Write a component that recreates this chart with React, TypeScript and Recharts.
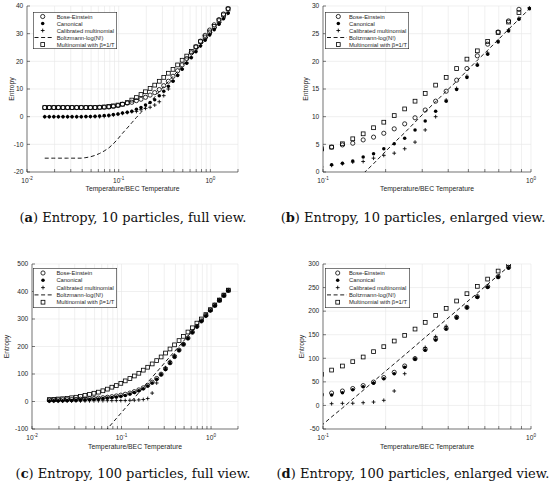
import React from 'react';
import { ComposedChart, Scatter, Line, XAxis, YAxis, CartesianGrid, Legend } from 'recharts';

// Temperature / BEC temperature (shared grid of all four panels)
const TEMPERATURE = [
  0.0156, 0.0175, 0.0196, 0.022, 0.0247, 0.0277, 0.031, 0.0348, 0.0391, 0.0439,
  0.0492, 0.0552, 0.0619, 0.0695, 0.078, 0.0875, 0.0982, 0.11, 0.124, 0.139,
  0.156, 0.175, 0.196, 0.22, 0.247, 0.277, 0.31, 0.348, 0.391, 0.439,
  0.492, 0.552, 0.619, 0.695, 0.78, 0.875, 0.982, 1.1, 1.24, 1.39, 1.56,
];

// 10 particles
const BOSE_EINSTEIN_10 = [
  3.3, 3.3, 3.3, 3.3, 3.3, 3.3, 3.3, 3.3, 3.3, 3.3, 3.3, 3.3, 3.35, 3.4, 3.5, 3.7, 4.0,
  4.5, 4.9, 5.2, 5.8, 6.3, 7.0, 7.8, 8.7, 9.8, 11.2, 12.8, 14.6, 16.6, 18.7, 21.0, 23.1,
  25.3, 27.3, 29.4, 31.3, 33.2, 35.1, 37.1, 39.1,
];
const CANONICAL_10 = [
  0, 0, 0, 0, 0, 0, 0, 0, 0, 0.05, 0.1, 0.15, 0.25, 0.4, 0.55, 0.75, 1.0,
  1.3, 1.6, 2.0, 2.7, 3.3, 4.2, 5.1, 6.1, 7.6, 9.2, 11.0, 12.8, 14.9, 17.1, 19.3, 21.3,
  23.5, 25.5, 27.6, 29.5, 31.4, 33.4, 35.4, 37.4,
];
const CALIBRATED_10 = [
  0, 0, 0, 0, 0, 0, 0, 0, 0, 0, 0, 0, 0, 0.1, 0.3, 0.6, 0.9,
  1.2, 1.5, 1.8, 1.9, 2.5, 3.0, 3.4, 4.2, 5.4, 7.6, 10.0, 13.0, 15.1, 17.3, 19.5, 21.5,
  23.7, 25.7, 27.8, 29.7, 31.6, 33.6, 35.6, 37.6,
];
const BOLTZMANN_10 = [
  -15, -15, -15, -15, -15, -15, -15, -15, -15, -14.8, -14.5, -14.0, -13.3, -12.4, -11.3, -9.8, -8.0,
  -6.0, -4.1, -2.2, -0.3, 1.5, 3.4, 5.3, 7.1, 9.0, 10.9, 12.7, 14.6, 16.4, 18.3, 20.2, 22.0,
  23.9, 25.8, 27.6, 29.5, 31.4, 33.2, 35.1, 37.0,
];
const MULTINOMIAL_10 = [
  3.3, 3.3, 3.3, 3.3, 3.3, 3.3, 3.3, 3.3, 3.3, 3.3, 3.3, 3.3, 3.4, 3.5, 3.7, 3.9, 4.2,
  4.5, 5.1, 6.0, 6.9, 8.0, 9.0, 10.2, 11.4, 12.8, 14.2, 15.7, 17.1, 18.7, 20.4, 21.9, 23.6,
  25.2, 27.1, 28.8, 30.6, 32.6, 34.7, 36.8, 38.9,
];

// 100 particles
const BOSE_EINSTEIN_100 = [
  5, 5.3, 5.6, 6, 6.5, 7, 7.6, 8.3, 9.1, 10, 11, 12.2, 13.6, 15.3, 17.5, 20, 23,
  26.3, 30.5, 35.8, 42, 49.5, 59, 70.2, 83.6, 99.2, 119, 141, 163.5, 187, 208, 230.7, 252,
  273, 293, 313, 332, 350, 368, 386, 404,
];
const CANONICAL_100 = [
  2, 2.3, 2.6, 3, 3.5, 4, 4.6, 5.3, 6.1, 7, 8, 9.2, 10.6, 12.3, 14.3, 16.8, 19.5,
  22, 27, 33, 39.5, 46.8, 56.7, 67.3, 80.8, 97.7, 116.8, 138.7, 162, 185.4, 207.4, 229.3, 250.5,
  271.7, 291.5, 311, 330, 348, 367, 385, 403,
];
const CALIBRATED_100 = [
  1.0, 1.1, 1.2, 1.3, 1.5, 1.6, 1.8, 2.0, 2.2, 2.4, 2.6, 2.8, 3.0, 3.2, 3.4, 3.5, 3.6,
  3.7, 4.4, 4.6, 5.8, 7.2, 10.8, 30.6, 67.3, 100, 123, 146, 168, 188, 209, 231, 252,
  273, 292, 312, 331, 349, 368, 386, 404,
];
const BOLTZMANN_100 = [
  -343, -324.3, -305.5, -286.8, -268, -249.3, -230.5, -211.8, -193, -174.3, -155.5, -136.8, -118, -99.3, -80.5, -61.8, -43,
  -24.3, -5.5, 13.3, 32, 50.8, 69.5, 88.3, 107, 125.8, 144.5, 163.3, 182, 200.8, 219.5, 238.3, 257,
  275.8, 294.5, 313.3, 332, 350.8, 369.5, 388.3, 407,
];
const MULTINOMIAL_100 = [
  7, 8, 9, 10, 11.5, 13.5, 15.5, 18.5, 22, 26, 30, 34, 39, 45, 52, 58, 66,
  75, 83.6, 92.8, 102.7, 114, 124.6, 136.6, 148.7, 162, 176.2, 191, 206, 221.5, 237, 252.6, 268,
  285, 300, 316, 334, 351, 369, 387, 405,
];

// axes
const X_TICKS_FULL = [0.01, 0.02, 0.03, 0.04, 0.05, 0.06, 0.07, 0.08, 0.09, 0.1, 0.2, 0.3, 0.4, 0.5, 0.6, 0.7, 0.8, 0.9, 1, 2];
const X_TICKS_ZOOM = [0.1, 0.2, 0.3, 0.4, 0.5, 0.6, 0.7, 0.8, 0.9, 1];
const Y_TICKS_A = [-20, -10, 0, 10, 20, 30, 40];
const Y_TICKS_B = [0, 5, 10, 15, 20, 25, 30];
const Y_TICKS_C = [-100, 0, 100, 200, 300, 400, 500];
const Y_TICKS_D = [-50, 0, 50, 100, 150, 200, 250, 300];

const LEGEND_LABELS = ['Bose-Einstein', 'Canonical', 'Calibrated multinomial', 'Boltzmann-log(N!)', 'Multinomial with \u03b2=1/T'];
const X_LABEL = 'Temperature/BEC Temperature';
const Y_LABEL = 'Entropy';
const CAPTIONS = [
  ['a', ' Entropy, 10 particles, full view.'],
  ['b', ' Entropy, 10 particles, enlarged view.'],
  ['c', ' Entropy, 100 particles, full view.'],
  ['d', ' Entropy, 100 particles, enlarged view.'],
];

const buildRows = (be: number[], can: number[], cal: number[], bol: number[], mul: number[]) =>
  TEMPERATURE.map((x, i) => ({ x, be: be[i], can: can[i], cal: cal[i], bol: bol[i], mul: mul[i] }));

const ROWS_10 = buildRows(BOSE_EINSTEIN_10, CANONICAL_10, CALIBRATED_10, BOLTZMANN_10, MULTINOMIAL_10);
const ROWS_100 = buildRows(BOSE_EINSTEIN_100, CANONICAL_100, CALIBRATED_100, BOLTZMANN_100, MULTINOMIAL_100);

const AXIS_COLOR = '#262626';
const FONT = '"Liberation Sans", Arial, Helvetica, sans-serif';

const isDecade = (v: number) => Math.abs(Math.log10(v) - Math.round(Math.log10(v))) < 1e-9;

const ok = (p: any) => Number.isFinite(p.cx) && Number.isFinite(p.cy);
const OpenCircle = (p: any) => (ok(p) ? <circle cx={p.cx} cy={p.cy} r={2.1} fill="none" stroke="#000" strokeWidth={0.8} /> : <g />);
const FilledCircle = (p: any) => (ok(p) ? <circle cx={p.cx} cy={p.cy} r={1.75} fill="#000" /> : <g />);
const PlusMark = (p: any) =>
  ok(p) ? (
    <path d={`M${p.cx - 1.9},${p.cy}H${p.cx + 1.9}M${p.cx},${p.cy - 1.9}V${p.cy + 1.9}`} stroke="#000" strokeWidth={0.85} fill="none" />
  ) : (
    <g />
  );
const OpenSquare = (p: any) =>
  ok(p) ? <rect x={p.cx - 1.9} y={p.cy - 1.9} width={3.8} height={3.8} fill="none" stroke="#000" strokeWidth={0.8} /> : <g />;

const XTick = (props: any) => {
  const { x, y, payload } = props;
  const v = payload && payload.value;
  if (!v || !isDecade(v)) return <g />;
  const e = Math.round(Math.log10(v));
  return (
    <text x={x} y={y} textAnchor="middle" fontSize={6.6} fill={AXIS_COLOR} fontFamily={FONT}>
      10<tspan dy={-3} fontSize={4.6}>{e}</tspan>
    </text>
  );
};
const YTick = (props: any) => (
  <text x={props.x} y={props.y} dy={2.3} textAnchor="end" fontSize={6.6} fill={AXIS_COLOR} fontFamily={FONT}>
    {props.payload.value}
  </text>
);
const EmptyTick = () => <g />;

type LegendLayout = { w: number; h: number; markerX: number; textX: number; dash: [number, number]; y0: number; step: number };

const makeLegend = (L: LegendLayout) => () => {
  const rows = LEGEND_LABELS.map((label, i) => {
    const y = L.y0 + L.step * i;
    let mark: React.ReactNode = null;
    if (i === 0) mark = <circle cx={L.markerX} cy={y} r={2.1} fill="none" stroke="#000" strokeWidth={0.8} />;
    if (i === 1) mark = <circle cx={L.markerX} cy={y} r={1.75} fill="#000" />;
    if (i === 2)
      mark = <path d={`M${L.markerX - 1.9},${y}H${L.markerX + 1.9}M${L.markerX},${y - 1.9}V${y + 1.9}`} stroke="#000" strokeWidth={0.85} />;
    if (i === 3) mark = <line x1={L.dash[0]} x2={L.dash[1]} y1={y} y2={y} stroke="#000" strokeWidth={0.9} strokeDasharray="4 2.6" />;
    if (i === 4) mark = <rect x={L.markerX - 1.9} y={y - 1.9} width={3.8} height={3.8} fill="none" stroke="#000" strokeWidth={0.8} />;
    return (
      <g key={label}>
        {mark}
        <text x={L.textX} y={y + 2} fontSize={5.8} fill={AXIS_COLOR} fontFamily={FONT}>
          {label}
        </text>
      </g>
    );
  });
  return (
    <svg width={L.w} height={L.h} style={{ display: 'block' }}>
      <rect x={0.3} y={0.3} width={L.w - 0.6} height={L.h - 0.6} fill="#fff" stroke={AXIS_COLOR} strokeWidth={0.6} />
      {rows}
    </svg>
  );
};

type PanelCfg = {
  left: number;
  top: number;
  width: number;
  height: number;
  margin: { top: number; right: number; bottom: number; left: number };
  yAxisWidth: number;
  xAxisHeight: number;
  xDomain: [number, number];
  xTicks: number[];
  yDomain: [number, number];
  yTicks: number[];
  rows: any[];
  legendPos: { left: number; top: number };
  legend: LegendLayout;
  yLabelX: number;
  xLabelDy: number;
};

function Panel(cfg: PanelCfg) {
  const { left, top, width, height, margin, yAxisWidth, xAxisHeight, xDomain, xTicks, yDomain, yTicks, rows } = cfg;
  const plotLeft = margin.left + yAxisWidth;
  const plotRight = width - margin.right;
  const plotTop = margin.top;
  const plotBottom = height - margin.bottom - xAxisHeight;
  const xLabel = () => (
    <text x={(plotLeft + plotRight) / 2} y={plotBottom + cfg.xLabelDy} textAnchor="middle" fontSize={6.8} fill={AXIS_COLOR} fontFamily={FONT}>
      {X_LABEL}
    </text>
  );
  const cy = (plotTop + plotBottom) / 2;
  const yLabel = () => (
    <text
      x={cfg.yLabelX}
      y={cy}
      textAnchor="middle"
      dominantBaseline="central"
      transform={`rotate(-90 ${cfg.yLabelX} ${cy})`}
      fontSize={6.8}
      fill={AXIS_COLOR}
      fontFamily={FONT}
    >
      {Y_LABEL}
    </text>
  );
  return (
    <div style={{ position: 'absolute', left, top, width, height }}>
      <ComposedChart width={width} height={height} data={rows} margin={margin}>
        <CartesianGrid stroke="#e6e6e6" strokeWidth={0.6} />
        <XAxis
          dataKey="x"
          type="number"
          scale="log"
          domain={xDomain}
          allowDataOverflow
          ticks={xTicks}
          interval={0}
          height={xAxisHeight}
          tickSize={-3}
          tickMargin={13.5}
          tick={XTick}
          stroke={AXIS_COLOR}
          strokeWidth={0.6}
          label={xLabel}
        />
        <XAxis
          xAxisId="top"
          orientation="top"
          dataKey="x"
          type="number"
          scale="log"
          domain={xDomain}
          allowDataOverflow
          ticks={xTicks}
          interval={0}
          height={0}
          tickSize={-3}
          tick={EmptyTick}
          stroke={AXIS_COLOR}
          strokeWidth={0.6}
        />
        <YAxis
          type="number"
          domain={yDomain}
          allowDataOverflow
          ticks={yTicks}
          interval={0}
          width={yAxisWidth}
          tickSize={-3}
          tickMargin={6.7}
          tick={YTick}
          stroke={AXIS_COLOR}
          strokeWidth={0.6}
          label={yLabel}
        />
        <YAxis
          yAxisId="right"
          orientation="right"
          type="number"
          domain={yDomain}
          allowDataOverflow
          ticks={yTicks}
          interval={0}
          width={0}
          tickSize={-3}
          tick={EmptyTick}
          stroke={AXIS_COLOR}
          strokeWidth={0.6}
        />
        <Legend
          layout="vertical"
          align="center"
          verticalAlign="middle"
          content={makeLegend(cfg.legend)}
          wrapperStyle={{ left: cfg.legendPos.left, top: cfg.legendPos.top, width: cfg.legend.w, height: cfg.legend.h }}
        />
        <Scatter name={LEGEND_LABELS[0]} dataKey="be" shape={OpenCircle} isAnimationActive={false} />
        <Scatter name={LEGEND_LABELS[1]} dataKey="can" shape={FilledCircle} isAnimationActive={false} />
        <Scatter name={LEGEND_LABELS[2]} dataKey="cal" shape={PlusMark} isAnimationActive={false} />
        <Line
          name={LEGEND_LABELS[3]}
          dataKey="bol"
          type="linear"
          stroke="#000"
          strokeWidth={0.9}
          strokeDasharray="4 2.6"
          dot={false}
          activeDot={false}
          isAnimationActive={false}
        />
        <Scatter name={LEGEND_LABELS[4]} dataKey="mul" shape={OpenSquare} isAnimationActive={false} />
      </ComposedChart>
    </div>
  );
}

const LEG_TOP: LegendLayout = { w: 84, h: 37, markerX: 9.7, textX: 23.7, dash: [1.5, 20], y0: 4.5, step: 7 };
const LEG_TOP_R: LegendLayout = { w: 84, h: 37, markerX: 13.3, textX: 24, dash: [2, 22], y0: 4.5, step: 7 };
const LEG_BOT: LegendLayout = { w: 84, h: 40, markerX: 10, textX: 23.4, dash: [1.5, 20], y0: 5, step: 7.3 };
const LEG_BOT_R: LegendLayout = { w: 85, h: 40, markerX: 12.7, textX: 24, dash: [2, 22], y0: 5, step: 7.3 };

const PANELS: PanelCfg[] = [
  {
    left: 0, top: 0, width: 275, height: 210,
    margin: { top: 6, right: 37, bottom: 0, left: 0 }, yAxisWidth: 27, xAxisHeight: 38,
    xDomain: [0.01, 2], xTicks: X_TICKS_FULL, yDomain: [-20, 40], yTicks: Y_TICKS_A, rows: ROWS_10,
    legendPos: { left: 33, top: 12 }, legend: LEG_TOP, yLabelX: 11.7, xLabelDy: 19.3,
  },
  {
    left: 275, top: 0, width: 275, height: 210,
    margin: { top: 6, right: 19, bottom: 0, left: 18 }, yAxisWidth: 30, xAxisHeight: 38,
    xDomain: [0.1, 1], xTicks: X_TICKS_ZOOM, yDomain: [0, 30], yTicks: Y_TICKS_B, rows: ROWS_10,
    legendPos: { left: 50, top: 12 }, legend: LEG_TOP_R, yLabelX: 30.7, xLabelDy: 19.3,
  },
  {
    left: 0, top: 245, width: 275, height: 210,
    margin: { top: 19, right: 37, bottom: 0, left: 0 }, yAxisWidth: 32, xAxisHeight: 26,
    xDomain: [0.01, 2], xTicks: X_TICKS_FULL, yDomain: [-100, 500], yTicks: Y_TICKS_C, rows: ROWS_100,
    legendPos: { left: 33.3, top: 23.3 }, legend: LEG_BOT, yLabelX: 6.7, xLabelDy: 20,
  },
  {
    left: 275, top: 245, width: 275, height: 210,
    margin: { top: 19, right: 19, bottom: 0, left: 18 }, yAxisWidth: 30, xAxisHeight: 26,
    xDomain: [0.1, 1], xTicks: X_TICKS_ZOOM, yDomain: [-50, 300], yTicks: Y_TICKS_D, rows: ROWS_100,
    legendPos: { left: 50, top: 23.3 }, legend: LEG_BOT_R, yLabelX: 26, xLabelDy: 20,
  },
];

const CAPTION_POS = [
  { x: 133, y: 221.5 },
  { x: 413, y: 221.5 },
  { x: 133, y: 478 },
  { x: 413, y: 478 },
];

export default function App() {
  return (
    <div style={{ position: 'absolute', left: 0, top: 0, width: 550, height: 490, background: '#fff', overflow: 'hidden' }}>
      {PANELS.map((p, i) => (
        <Panel key={i} {...p} />
      ))}
      <svg width={550} height={490} style={{ position: 'absolute', left: 0, top: 0, pointerEvents: 'none' }}>
        {CAPTIONS.map(([letter, rest], i) => (
          <text
            key={letter}
            x={CAPTION_POS[i].x}
            y={CAPTION_POS[i].y}
            textAnchor="middle"
            fontSize={13}
            fill="#111"
            fontFamily='"DejaVu Serif", "Liberation Serif", serif'
          >
            (<tspan fontWeight="bold">{letter}</tspan>){rest}
          </text>
        ))}
      </svg>
    </div>
  );
}
